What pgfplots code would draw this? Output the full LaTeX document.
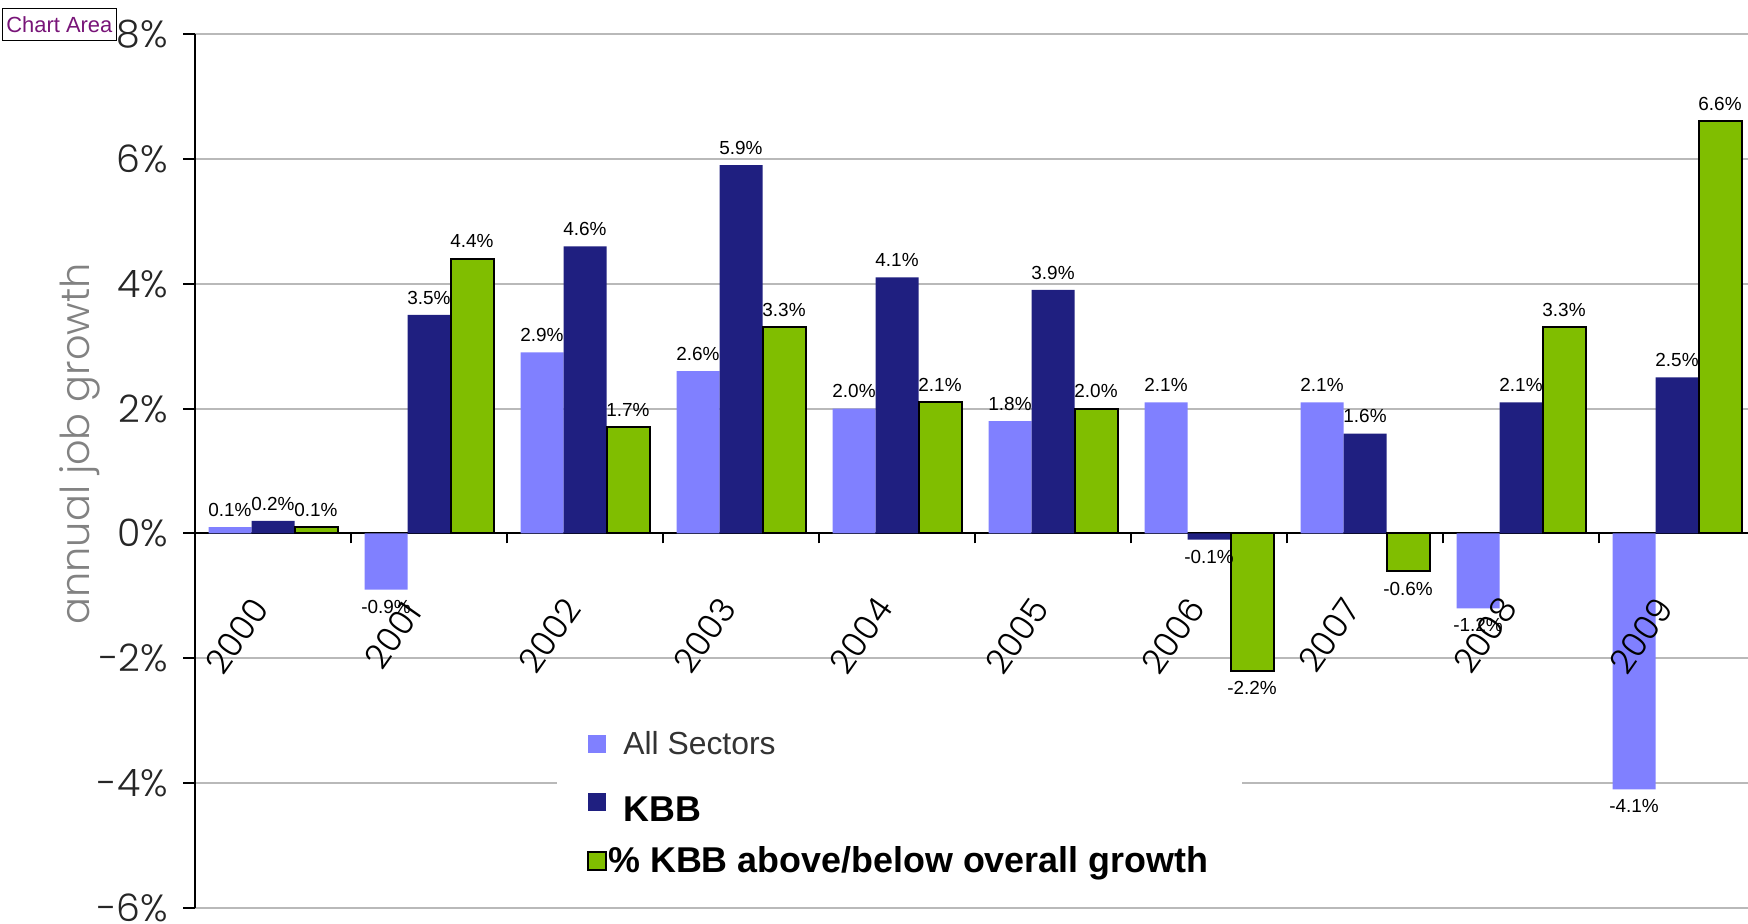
\documentclass[border=0pt]{standalone}
\usepackage{pgfplots}
\usepackage{pgfplotstable}
\pgfplotsset{compat=1.18}
\usepackage{fontspec}
\setmainfont{Liberation Sans}
\newfontfamily\gothic{Poppins Light}

\definecolor{allsec}{RGB}{128,128,255}
\definecolor{kbb}{RGB}{31,31,128}
\definecolor{kdiff}{RGB}{128,190,0}
\definecolor{gridc}{RGB}{185,185,185}
\definecolor{labgray}{RGB}{130,130,130}
\definecolor{tipc}{RGB}{120,20,120}

% annual job growth, % ; x = 0..9 for 2000..2009
\pgfplotstableread{
x   all   kbb   diff
0   0.1   0.2   0.1
1  -0.9   3.5   4.4
2   2.9   4.6   1.7
3   2.6   5.9   3.3
4   2.0   4.1   2.1
5   1.8   3.9   2.0
6   2.1  -0.1  -2.2
7   2.1   1.6  -0.6
8  -1.2   2.1   3.3
9  -4.1   2.5   6.6
}\growth

\begin{document}
\begin{tikzpicture}
\begin{axis}[
    at={(97.5bp,8bp)}, anchor=south west,
    scale only axis, width=780bp, height=437bp,
    xmin=-0.5, xmax=9.5, ymin=-6, ymax=8,
    axis y line*=left, axis x line*=middle,
    axis line style={black, line width=1bp},
    ybar=0pt, bar width=21.5bp,
    /pgf/number format/assume math mode=true,
    ytick={-6,-4,...,8},
    yticklabels={-6\%,-4\%,-2\%,0\%,2\%,4\%,6\%,8\%},
    yticklabel style={font=\gothic\fontsize{19}{22}\selectfont, text=black!85, xshift=-4bp},
    ymajorgrids, grid style={gridc, line width=1bp},
    xtick={0,...,9}, xticklabels={},
    minor xtick={-0.5,0.5,...,9.5},
    major x tick style={draw=none},
    minor x tick style={black, line width=1bp},
    minor tick length=5bp,
    major tick length=6bp,
    tick align=outside,
    y tick style={black, line width=1bp},
    ylabel={annual job growth},
    ylabel style={at={(axis description cs:-0.0737,0.531)}, anchor=center,
        font=\gothic\fontsize{20}{24}\selectfont, text=labgray},
    nodes near coords={\pgfmathprintnumber[fixed,fixed zerofill,precision=1]{\pgfplotspointmeta}\%},
    nodes near coords align={vertical},
    every node near coord/.append style={font=\fontsize{9.5}{11}\selectfont, text=black, inner ysep=5bp},
    legend style={at={(axis description cs:0.232,0.221)}, anchor=north west,
        draw=none, fill=white, inner xsep=15bp, inner ysep=6bp, row sep=7bp,
        /tikz/every odd column/.append style={column sep=6bp}},
    legend cell align=left,
    sq/.style={legend image code/.code={\path[##1] (0bp,-4.5bp) rectangle (9bp,4.5bp);}},
]
\addplot[fill=allsec, draw=none, sq] table[x=x, y=all] {\growth};
\addplot[fill=kbb, draw=none, sq] table[x=x, y=kbb] {\growth};
\addplot[fill=kdiff, draw=black, line width=1bp, sq] table[x=x, y=diff] {\growth};
\addlegendentry{\fontsize{16}{19}\selectfont\color{black!80}All Sectors}
\addlegendentry{\rule{0pt}{21bp}\fontsize{18}{21}\selectfont\bfseries KBB}
\addlegendentry{\hspace{-7.5bp}\fontsize{18}{21}\selectfont\bfseries\% KBB above/below overall growth}
% year labels, set after the bars so that they lie over them as in the original
\pgfplotsinvokeforeach{0,...,9}{
  \node[font=\gothic\fontsize{17}{20}\selectfont, anchor=center,
        xshift=-18bp, yshift=-51bp, rotate=55]
    at (axis cs:#1,0) {\pgfmathparse{int(2000+#1)}\pgfmathresult};
}
\end{axis}
\node[draw=black, fill=white, line width=0.6bp, anchor=north east, inner xsep=2bp, inner ysep=4bp,
    font=\fontsize{11}{13}\selectfont, text=tipc] at (58.5bp,458bp) {Chart Area};
\pgfresetboundingbox
\path[use as bounding box] (0,0) rectangle (874bp,462bp);
\end{tikzpicture}
\end{document}
